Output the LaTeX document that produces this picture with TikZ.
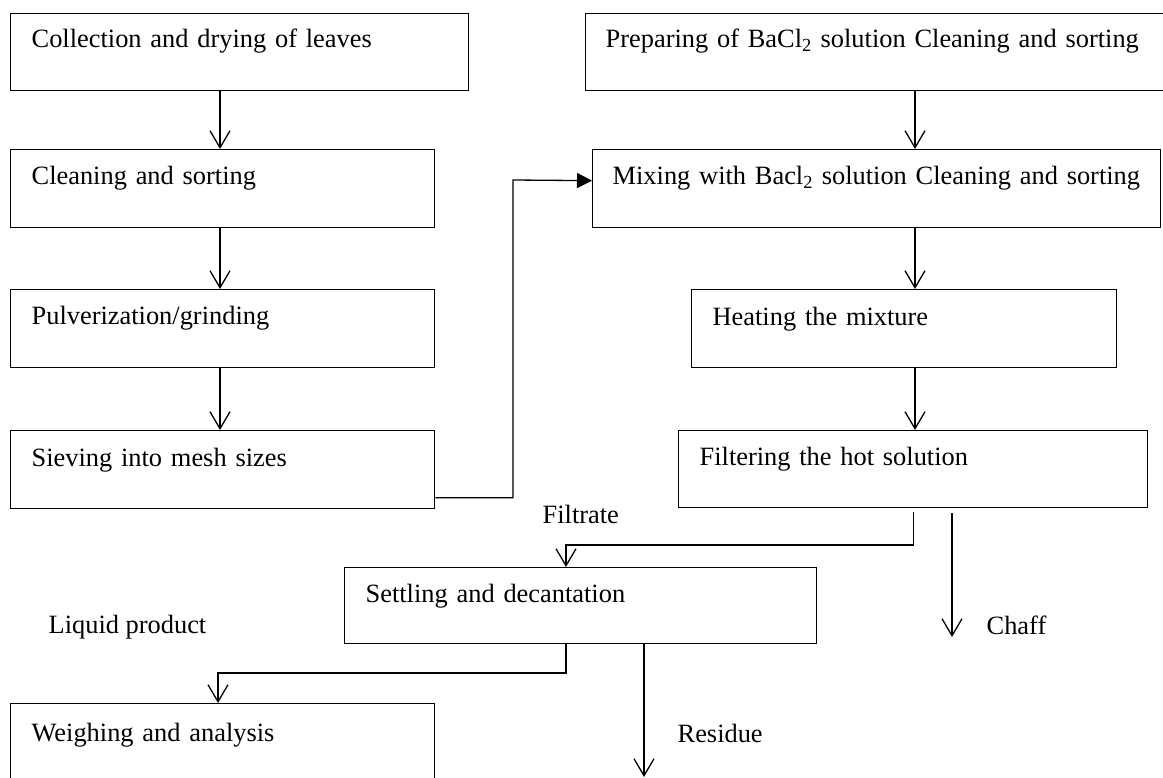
\documentclass[tikz,border=0pt]{standalone}
\usepackage{fontspec}
\setmainfont{Liberation Serif}
\usetikzlibrary{arrows.meta,calc}
\begin{document}
\begin{tikzpicture}[x=1pt,y=-1pt,line width=1.3pt,
  box/.style={draw,rectangle,anchor=north west,align=left,inner ysep=0pt,inner xsep=21pt,font=\fontsize{26.4}{30}\selectfont},
  oarr/.style={-{Straight Barb[length=17pt,width=20pt]}},
  farr/.style={-{Triangle[length=15pt,width=15pt]}},
  lbl/.style={anchor=base west,inner sep=0pt,font=\fontsize{26.4}{30}\selectfont}]
\clip (0,0) rectangle (1163,778);
% left column
\node[box,text width=416pt,text height=34pt,text depth=43pt] (cl) at (10,13) {Collection and drying of leaves};
\node[box,text width=382pt,text height=35pt,text depth=43pt] (cs) at (10,149) {Cleaning and sorting};
\node[box,text width=382pt,text height=35pt,text depth=43pt] (pv) at (10,289) {Pulverization/grinding};
\node[box,text width=382pt,text height=36pt,text depth=42pt] (sv) at (10,430) {Sieving into mesh sizes};
\node[box,text width=382pt,text height=38pt,text depth=60pt] (wg) at (10,703) {Weighing and analysis};
% right column
\node[box,text width=548pt,text height=34pt,text depth=43pt,inner xsep=20pt] (pr) at (585,13) {Preparing of BaCl\textsubscript{2} solution Cleaning and sorting};
\node[box,text width=528pt,text height=35pt,text depth=43pt,inner xsep=20pt] (mx) at (592,149) {Mixing with Bacl\textsubscript{2} solution Cleaning and sorting};
\node[box,text width=383pt,text height=36pt,text depth=42pt] (ht) at (691,289) {Heating the mixture};
\node[box,text width=427pt,text height=35pt,text depth=42pt] (fl) at (678,430) {Filtering the hot solution};
\node[box,text width=430pt,text height=35pt,text depth=41pt] (st) at (344,567) {Settling and decantation};
% labels
\node[lbl] (lfil) at (542,523) {Filtrate};
\node[lbl] (lliq) at (48,633) {Liquid product};
\node[lbl] (lcha) at (986,634) {Chaff};
\node[lbl] (lres) at (677,742) {Residue};
% coordinates
\coordinate (xl) at (220,0);
\coordinate (xr) at (915,0);
\coordinate (j1) at (513,180);
\coordinate (xf) at (566,0);
\coordinate (yf) at (0,545);
\coordinate (xc) at (952,0);
\coordinate (chaffend) at (952,637);
\coordinate (yl) at (0,673);
\coordinate (xw) at (218,0);
\coordinate (xres) at (644,0);
\coordinate (resend) at (644,777);
% connectors
\draw[oarr] (cl.south -| xl) -- (cs.north -| xl);
\draw[oarr] (cs.south -| xl) -- (pv.north -| xl);
\draw[oarr] (pv.south -| xl) -- (sv.north -| xl);
\draw[oarr] (pr.south -| xr) -- (mx.north -| xr);
\draw[oarr] (mx.south -| xr) -- (ht.north -| xr);
\draw[oarr] (ht.south -| xr) -- (fl.north -| xr);
\draw[farr] ([yshift=-28pt]sv.east) -| (j1) -- ([yshift=8pt]mx.west);
\draw[oarr] ([yshift=-4pt]fl.south) -- (fl.south |- yf) -- (xf |- yf) -- (xf |- st.north);
\draw[oarr] ([yshift=-5pt]fl.south -| xc) -- (chaffend);
\draw[oarr] (st.south -| xf) -- (xf |- yl) -- (xw |- yl) -- (xw |- wg.north);
\draw[oarr] (st.south -| xres) -- (resend);
\end{tikzpicture}
\end{document}
